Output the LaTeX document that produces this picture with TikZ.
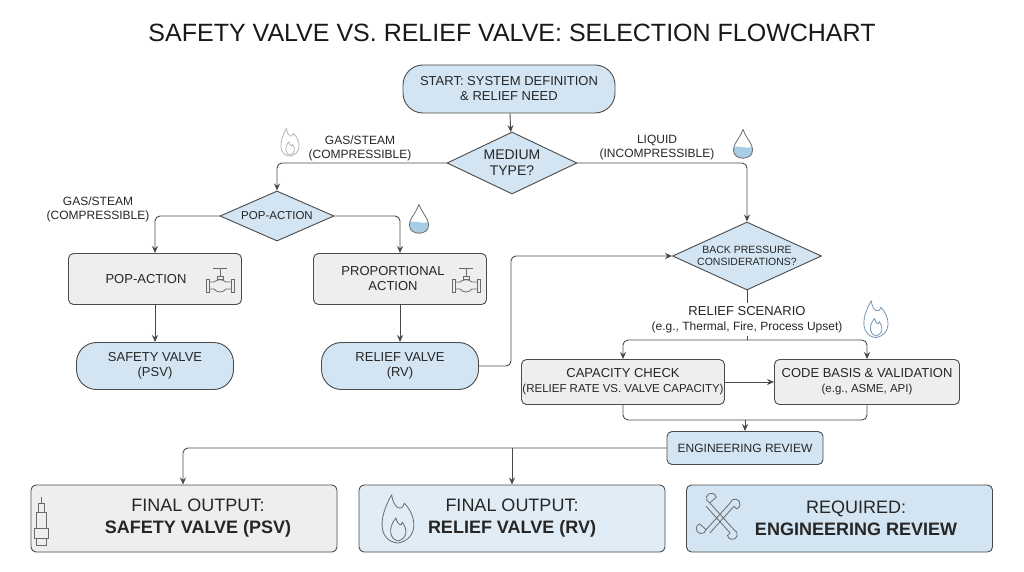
\documentclass[tikz,border=0pt]{standalone}
\usepackage{fontspec}
\setmainfont{Liberation Sans}
\usetikzlibrary{shapes.geometric,arrows.meta}
\definecolor{bfill}{HTML}{D3E5F2}
\definecolor{gfill}{HTML}{EEEEEE}
\definecolor{edge}{HTML}{4A4A4A}
\definecolor{icon}{HTML}{6A6A6A}
\definecolor{drop}{HTML}{A9CDE6}
\definecolor{steel}{HTML}{7895B5}
\tikzset{
  base/.style={draw=edge,line width=0.9pt,align=center,text=black!85,font=\fontsize{13}{15}\selectfont},
  pill/.style={base,fill=bfill,rounded corners=20pt,inner sep=0pt},
  box/.style={base,fill=gfill,rounded corners=5pt,inner sep=0pt},
  dia/.style={base,fill=bfill,diamond,aspect=2.1,inner sep=0pt,font=\fontsize{11.5}{13}\selectfont},
  final/.style={draw=edge,line width=0.9pt,rounded corners=5pt,minimum width=306pt,minimum height=67pt,inner sep=0pt},
  ftxt/.style={align=center,text=black!85,font=\fontsize{18}{22}\selectfont},
  lab/.style={align=center,text=black!85,font=\fontsize{12}{14}\selectfont},
  conn/.style={draw=edge,line width=0.9pt,rounded corners=5pt,-{Stealth[length=7pt,width=6pt]}},
  line/.style={draw=edge,line width=0.9pt,rounded corners=5pt},
  pics/flame/.style={code={
    \draw[#1,line width=0.8pt,line join=round] (0,11) .. controls (-9,10) and (-10,0) .. (-3,-12) .. controls (-2,-5) and (2,-4) .. (3,-8) .. controls (9,-2) and (10,9) .. (0,11);
    \draw[#1,line width=0.8pt,line join=round] (0,10) .. controls (-4,9) and (-5,4) .. (-1,-1) .. controls (0,3) and (2,3) .. (2,1) .. controls (5,5) and (4,9) .. (0,10);}},
  pics/drop/.style={code={
    \begin{scope}
    \clip (0,-13) .. controls (3,-5) and (8,-1) .. (8,4) .. controls (8,9) and (4,11) .. (0,11) .. controls (-4,11) and (-8,9) .. (-8,4) .. controls (-8,-1) and (-3,-5) .. (0,-13);
    \fill[drop] (-9,2) .. controls (-4,0) and (4,4) .. (9,1) -- (9,12) -- (-9,12) -- cycle;
    \end{scope}
    \draw[icon,line width=0.8pt] (0,-13) .. controls (3,-5) and (8,-1) .. (8,4) .. controls (8,9) and (4,11) .. (0,11) .. controls (-4,11) and (-8,9) .. (-8,4) .. controls (-8,-1) and (-3,-5) .. (0,-13);}},
  pics/valve/.style={code={
    \draw[icon,line width=0.8pt] (-7,-12) -- (7,-12) (0,-12) -- (0,-4) (-3,-4) rectangle (3,-1);
    \draw[icon,line width=0.8pt] (-14,-1) rectangle (-11,12) (11,-1) rectangle (14,12);
    \draw[icon,line width=0.8pt] (-11,2) -- (-6,2) .. controls (-3,-1) and (3,-1) .. (6,2) -- (11,2) (-11,9) -- (-6,9) .. controls (-3,13) and (3,13) .. (6,9) -- (11,9);}},
  pics/bar/.style={code={
    \draw[icon,line width=0.8pt,line join=round] (-18,-2.5) -- (18,-2.5) arc[start angle=-120,end angle=120,radius=5] ++(0,0) -- (18,2.5) -- (-18,2.5);
    \draw[icon,line width=0.8pt] (-18,-2.5) arc[start angle=60,end angle=300,radius=5]--cycle;}}
}
\begin{document}
\begin{tikzpicture}[x=1pt,y=-1pt]
\useasboundingbox (0,0) rectangle (1024,572);
\fill[white] (0,0) rectangle (1024,572);
\node[font=\fontsize{25}{28}\selectfont,text=black!90] (title) at (512,33) {SAFETY VALVE VS. RELIEF VALVE: SELECTION FLOWCHART};

\node[pill,minimum width=212pt,minimum height=48pt] (start) at (509,89) {START: SYSTEM DEFINITION\\\& RELIEF NEED};
\node[dia,minimum width=130pt,minimum height=62pt,font=\fontsize{14}{16}\selectfont] (medium) at (512,163) {MEDIUM\\TYPE?};
\node[dia,minimum width=114pt,minimum height=50pt] (popd) at (277,216) {POP-ACTION};
\node[box,minimum width=173pt,minimum height=51pt] (popbox) at (155,279) {};
\node[base,draw=none] (poptxt) at (146,279) {POP-ACTION};
\pic at (220,280) {valve};
\node[box,minimum width=173pt,minimum height=51pt] (propbox) at (400,279) {};
\node[base,draw=none] (proptxt) at (393,279) {PROPORTIONAL\\ACTION};
\pic at (466,280) {valve};
\node[pill,minimum width=157pt,minimum height=47pt] (psv) at (155,366) {SAFETY VALVE\\(PSV)};
\node[pill,minimum width=157pt,minimum height=47pt] (rv) at (400,366) {RELIEF VALVE\\(RV)};
\node[dia,minimum width=149pt,minimum height=68pt,font=\fontsize{10.5}{12}\selectfont] (back) at (747,256) {BACK PRESSURE\\CONSIDERATIONS?};
\node[lab] (scen) at (747,311) {\fontsize{13}{15}\selectfont RELIEF SCENARIO};
\node[lab] (scen2) at (747,327) {(e.g., Thermal, Fire, Process Upset)};
\coordinate (sj) at (747,340);
\node[box,minimum width=203pt,minimum height=45pt] (cap) at (623,382) {CAPACITY CHECK\\\fontsize{11.5}{14}\selectfont(RELIEF RATE VS. VALVE CAPACITY)};
\node[box,minimum width=185pt,minimum height=45pt] (code) at (867,382) {CODE BASIS \& VALIDATION\\\fontsize{11.5}{14}\selectfont(e.g., ASME, API)};
\coordinate (rj) at (745,420);
\node[base,fill=bfill,rounded corners=5pt,minimum width=156pt,minimum height=33pt,inner sep=0pt,font=\fontsize{12}{14}\selectfont] (eng) at (745,448) {ENGINEERING REVIEW};

\node[final,fill=gfill] (f1) at (184,518.5) {};
\node[final,fill=bfill!70] (f2) at (512,518.5) {};
\node[final,fill=bfill] (f3) at (839.5,518.5) {};
\node[ftxt] (f1t) at (198,518) {FINAL OUTPUT:\\\bfseries SAFETY VALVE (PSV)};
\node[ftxt] (f2t) at (512,518) {FINAL OUTPUT:\\\bfseries RELIEF VALVE (RV)};
\node[ftxt] (f3t) at (856,518) {REQUIRED:\\\bfseries ENGINEERING REVIEW};

% labels and icons
\node[lab] (l1) at (360,148) {GAS/STEAM\\(COMPRESSIBLE)};
\node[lab] (l2) at (98,209) {GAS/STEAM\\(COMPRESSIBLE)};
\node[lab] (l3) at (657,148) {LIQUID\\(INCOMPRESSIBLE)};
\pic[scale=1.2] at (290,143) {flame=icon!50};
\pic[scale=1.2] at (419,220) {drop};
\pic[scale=1.2] at (743,145) {drop};
\pic[scale=1.6] at (876,320) {flame={steel,line width=1pt}};
\pic[scale=2.1] at (398,520) {flame=icon};
% safety valve icon
\draw[icon,line width=0.8pt] (38,503) rectangle (44,512) (36,512) rectangle (46,528) (34,528) rectangle (48,538) (36,538) -- (36,545) -- (46,545) -- (46,538) (41,497) -- (41,503);
% tools icon
\pic[rotate=-48] at (720,518) {bar};
\pic[rotate=48] at (720,518) {bar};

% connectors
\draw[conn] (start) -- (medium);
\draw[conn] (medium.west) -| (popd.north);
\draw[conn] (medium.east) -| (back.north);
\draw[conn] (popd.west) -| (popbox.north);
\draw[conn] (popd.east) -| (propbox.north);
\draw[conn] (popbox) -- (psv);
\draw[conn] (propbox) -- (rv);
\draw[conn] (rv.east) -- (511,366) -- (511,256) -- (back.west);
\draw[line] (back.south) -- (scen.north);
\draw[line,rounded corners=0pt] (scen2.south) -- (sj);
\draw[conn] (sj) -| (cap.north);
\draw[conn] (sj) -| (code.north);
\draw[conn] (cap) -- (code);
\draw[line] (cap.south) |- (rj);
\draw[line] (code.south) |- (rj);
\draw[conn] (rj) -- (eng);
\draw[conn] (eng.west) -| (f1.north -| 183,0);
\draw[conn] (512,448) -- (f2.north);
\end{tikzpicture}
\end{document}
